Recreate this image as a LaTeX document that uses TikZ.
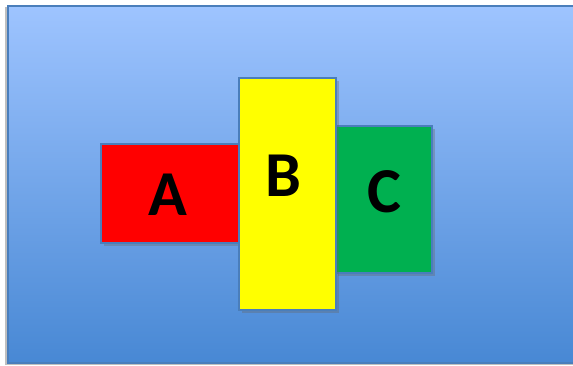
\documentclass[tikz,border=0pt]{standalone}
\usepackage{fontspec}
\setmainfont{Carlito}
\usetikzlibrary{shadows}
\definecolor{bgtop}{RGB}{158,196,255}
\definecolor{bgbot}{RGB}{72,136,212}
\definecolor{edgeblue}{RGB}{74,126,187}
\definecolor{boxred}{RGB}{255,0,0}
\definecolor{boxyellow}{RGB}{255,255,0}
\definecolor{boxgreen}{RGB}{0,176,80}
\tikzset{
  panel/.style={draw=edgeblue, line width=2pt, anchor=north west, inner sep=0pt,
    drop shadow={shadow xshift=2.5pt, shadow yshift=-2.5pt, opacity=0.35, fill=black!60}},
  letter/.style={font=\fontsize{64}{64}\bfseries\selectfont, text=black}
}
\begin{document}
\begin{tikzpicture}[x=1pt,y=-1pt]
\useasboundingbox (0,0) rectangle (573,365);
\fill[white] (0,0) rectangle (573,365);
\fill[black!25] (5,7) rectangle (573,365);
\node (bg) [anchor=north west, inner sep=0pt, minimum width=570pt, minimum height=357pt,
  top color=bgtop, bottom color=bgbot, draw=edgeblue, line width=1.8pt] at (7,5) {};
\node (a) [panel, fill=boxred, minimum width=139pt, minimum height=99pt] at (100,143) {};
\node (c) [panel, fill=boxgreen, minimum width=97pt, minimum height=147pt] at (334,125) {};
\node (b) [panel, fill=boxyellow, minimum width=97pt, minimum height=232pt] at (238,77) {};
\node[letter] at (168,195) {A};
\node[letter] at (283,176) {B};
\node[letter] at (384,192) {C};
\end{tikzpicture}
\end{document}
